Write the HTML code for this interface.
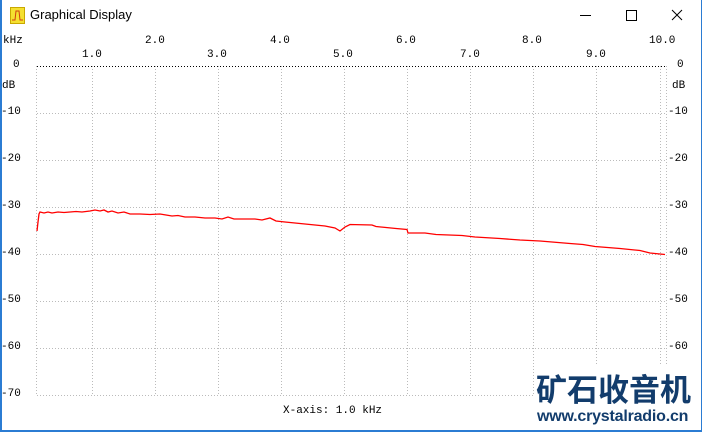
<!DOCTYPE html>
<html><head><meta charset="utf-8"><style>
body{margin:0;width:702px;height:432px;overflow:hidden;background:#fff;position:relative;font-family:"Liberation Sans",sans-serif}
.t{position:absolute;font-family:"Liberation Mono",monospace;font-size:11px;line-height:12px;color:#000;white-space:nowrap}
</style></head><body>
<div style="position:absolute;left:0;top:0;width:2px;height:432px;background:#2b7cd3"></div>
<div style="position:absolute;right:0;top:0;width:1px;height:432px;background:#2b7cd3"></div>
<div style="position:absolute;left:0;bottom:0;width:702px;height:2px;background:#2b7cd3"></div>
<div style="position:absolute;left:10px;top:7px;width:13px;height:15px;background:#f5e030;border:1px solid #c9a800"></div>
<svg style="position:absolute;left:10px;top:7px" width="15" height="17"><path d="M2 13 H5 L6 4 H9 L10 13 H13" fill="none" stroke="#d04010" stroke-width="1"/></svg>
<div style="position:absolute;left:30px;top:7px;font-size:13px;font-family:'Liberation Sans','Noto Sans CJK SC',sans-serif">Graphical Display</div>
<svg style="position:absolute;left:0;top:0" width="702" height="432">
<line x1="580" y1="15.5" x2="591" y2="15.5" stroke="#000"/>
<rect x="626.5" y="10.5" width="10" height="10" fill="none" stroke="#000"/>
<path d="M672 10 L682 20 M682 10 L672 20" stroke="#000"/>
<g stroke="#bbb" stroke-dasharray="1,2" stroke-width="1">
<line x1="92.5" y1="66" x2="92.5" y2="396"/><line x1="155.5" y1="66" x2="155.5" y2="396"/>
<line x1="218.5" y1="66" x2="218.5" y2="396"/><line x1="281.5" y1="66" x2="281.5" y2="396"/>
<line x1="344.5" y1="66" x2="344.5" y2="396"/><line x1="407.5" y1="66" x2="407.5" y2="396"/>
<line x1="470.5" y1="66" x2="470.5" y2="396"/><line x1="533.5" y1="66" x2="533.5" y2="396"/>
<line x1="596.5" y1="66" x2="596.5" y2="396"/><line x1="660.5" y1="66" x2="660.5" y2="396"/>
<line x1="666.5" y1="66" x2="666.5" y2="396"/><line x1="36.5" y1="66" x2="36.5" y2="396"/>
<line x1="37" y1="113.5" x2="666" y2="113.5"/><line x1="37" y1="160.5" x2="666" y2="160.5"/>
<line x1="37" y1="207.5" x2="666" y2="207.5"/><line x1="37" y1="254.5" x2="666" y2="254.5"/>
<line x1="37" y1="301.5" x2="666" y2="301.5"/><line x1="37" y1="348.5" x2="666" y2="348.5"/>
<line x1="37" y1="395.5" x2="666" y2="395.5"/>
</g>
<line x1="37" y1="66.5" x2="666" y2="66.5" stroke="#000" stroke-dasharray="1,2"/>
<polyline fill="none" stroke="#f00" stroke-width="1.3" points="37,231 38,222 39,214 40,212 44,213 48,212 52,213 58,212 64,212.5 70,212 76,211.5 82,212 90,211 95,210 100,211 104,210 108,212 112,211 118,213 124,212 130,214 140,214 150,214.5 160,214 166,215 172,216 178,215.5 185,217 195,217 205,218 215,218 222,219 228,217 234,219 245,219 255,219 262,220 270,218 276,221 285,222 295,223 305,224 315,225 325,226 335,228 340,231 345,227 350,224.5 372,225 376,226.5 386,227.5 396,228.5 407,229.5 408,233 425,233 436,234.5 462,235.5 475,237 500,238.5 520,240 540,241 558,242.5 570,243.5 583,244.5 595,246.5 620,248.5 640,250.5 650,253 665,254.5"/>
</svg>
<div class="t" style="left:3px;top:35px">kHz</div>
<div class="t" style="left:145px;top:35px">2.0</div>
<div class="t" style="left:270px;top:35px">4.0</div>
<div class="t" style="left:396px;top:35px">6.0</div>
<div class="t" style="left:522px;top:35px">8.0</div>
<div class="t" style="left:649px;top:35px">10.0</div>
<div class="t" style="left:82px;top:49px">1.0</div>
<div class="t" style="left:207px;top:49px">3.0</div>
<div class="t" style="left:333px;top:49px">5.0</div>
<div class="t" style="left:460px;top:49px">7.0</div>
<div class="t" style="left:586px;top:49px">9.0</div>
<div class="t" style="left:13px;top:59px">0</div>
<div class="t" style="left:2px;top:80px">dB</div>
<div class="t" style="left:1px;top:106px">-10</div>
<div class="t" style="left:1px;top:153px">-20</div>
<div class="t" style="left:1px;top:200px">-30</div>
<div class="t" style="left:1px;top:247px">-40</div>
<div class="t" style="left:1px;top:294px">-50</div>
<div class="t" style="left:1px;top:341px">-60</div>
<div class="t" style="left:1px;top:388px">-70</div>
<div class="t" style="left:677px;top:59px">0</div>
<div class="t" style="left:672px;top:80px">dB</div>
<div class="t" style="left:668px;top:106px">-10</div>
<div class="t" style="left:668px;top:153px">-20</div>
<div class="t" style="left:668px;top:200px">-30</div>
<div class="t" style="left:668px;top:247px">-40</div>
<div class="t" style="left:668px;top:294px">-50</div>
<div class="t" style="left:668px;top:341px">-60</div>
<div class="t" style="left:283px;top:405px">X-axis: 1.0 kHz</div>
<div style="position:absolute;left:534px;top:365px;width:164px;height:64px;background:#fff"></div>
<div style="position:absolute;left:536px;top:366px;font-family:'Noto Sans CJK SC',sans-serif;font-weight:bold;font-size:31px;line-height:44px;color:#123c6c">矿石收音机</div>
<div style="position:absolute;left:537px;top:407px;font-family:'Liberation Sans',sans-serif;font-weight:bold;font-size:16px;line-height:20px;letter-spacing:-0.2px;color:#123c6c">www.crystalradio.cn</div>
</body></html>
